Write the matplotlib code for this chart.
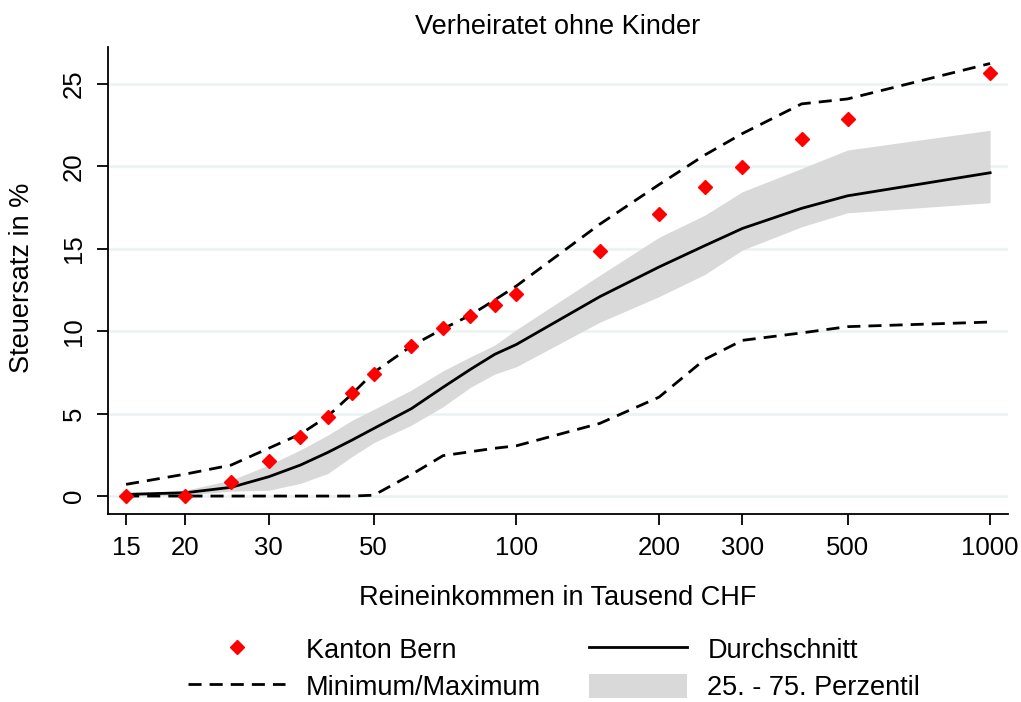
import matplotlib
matplotlib.use("Agg")
import matplotlib.pyplot as plt
from matplotlib.patches import Patch
from matplotlib.lines import Line2D

plt.rcParams["font.family"] = ["Liberation Sans", "DejaVu Sans"]

# -------------------------------
# data
# -------------------------------
income = [15, 20, 25, 30, 35, 40, 45, 50, 60, 70, 80, 90, 100,
          150, 200, 250, 300, 400, 500, 1000]
bern = [0, 0, 0.85, 2.12, 3.58, 4.79, 6.25, 7.4, 9.1, 10.19, 10.92, 11.59, 12.26,
        14.87, 17.1, 18.75, 19.96, 21.66, 22.88, 25.67]
maximum = [0.71, 1.33, 1.88, 2.9, 3.76, 4.85, 6.2, 7.5, 9.1, 10.15, 10.98, 11.9, 12.75,
           16.5, 18.9, 20.7, 22.0, 23.8, 24.1, 26.25]
minimum = [0, 0, 0, 0, 0, 0, 0, 0.05, 1.3, 2.45, 2.69, 2.9, 3.05,
           4.41, 6.0, 8.3, 9.45, 9.9, 10.28, 10.56]
mean = [0.1, 0.2, 0.53, 1.17, 1.88, 2.65, 3.4, 4.1, 5.3, 6.6, 7.69, 8.6, 9.2,
        12.1, 13.9, 15.2, 16.24, 17.46, 18.22, 19.62]
p75 = [0.15, 0.35, 0.97, 1.88, 2.8, 3.7, 4.6, 5.26, 6.43, 7.6, 8.45, 9.16, 10.1,
       13.4, 15.7, 17.05, 18.47, 19.88, 21.0, 22.2]
p25 = [0, 0.05, 0.3, 0.35, 0.77, 1.37, 2.4, 3.24, 4.3, 5.42, 6.6, 7.4, 7.85,
       10.55, 12.1, 13.45, 14.93, 16.34, 17.19, 17.8]

xticks = [15, 20, 30, 50, 100, 200, 300, 500, 1000]
yticks = [0, 5, 10, 15, 20, 25]

DASH = (4.7, 2.9)
LW = 2.0

# -------------------------------
# figure
# -------------------------------
fig = plt.figure(figsize=(10.21, 7.02), dpi=100)
ax = fig.add_axes([0.1058, 0.2678, 0.8815, 0.6652])

ax.set_xscale("log")
ax.set_xlim(13.74, 1091)
ax.set_ylim(-1.09, 27.25)

for y in yticks:
    ax.axhline(y, color="#eaf2f3", lw=1.8, zorder=0)

ax.fill_between(income, p25, p75, color="#d9d9d9", lw=0, zorder=1)
ax.plot(income, mean, color="black", lw=LW, zorder=2)
ax.plot(income, maximum, color="black", lw=LW, dashes=DASH, zorder=2)
ax.plot(income, minimum, color="black", lw=LW, dashes=DASH, zorder=2)
ax.plot(income, bern, ls="none", marker="D", ms=7, color="red", mec="red", zorder=3)

ax.set_xticks(xticks)
ax.set_xticklabels([str(t) for t in xticks])
ax.xaxis.set_minor_locator(matplotlib.ticker.NullLocator())
ax.set_yticks(yticks)
ax.set_yticklabels([str(t) for t in yticks], rotation=90, va="center")
ax.tick_params(axis="both", labelsize=18.5, length=8, width=1.3, direction="out")
ax.tick_params(axis="x", pad=8)
ax.tick_params(axis="y", pad=8)

for side in ["top", "right"]:
    ax.spines[side].set_visible(False)
for side in ["left", "bottom"]:
    ax.spines[side].set_linewidth(1.3)

fig.text(0.5465, 0.9615, "Verheiratet ohne Kinder", ha="center", va="center", fontsize=19.5)
fig.text(0.5465, 0.148, "Reineinkommen in Tausend CHF", ha="center", va="center", fontsize=19.5)
fig.text(0.0215, 0.604, "Steuersatz in %", ha="center", va="center", rotation=90, fontsize=19.5)

handles = [
    Line2D([], [], ls="none", marker="D", ms=7.5, color="red"),
    Line2D([], [], color="black", lw=LW, dashes=DASH),
    Line2D([], [], color="black", lw=LW),
    Patch(facecolor="#d9d9d9", edgecolor="none"),
]
labels = ["Kanton Bern", "Minimum/Maximum", "Durchschnitt", "25. - 75. Perzentil"]
fig.legend(handles, labels, loc="center", bbox_to_anchor=(0.5426, 0.0475), ncol=2,
           frameon=False, fontsize=19.5, handlelength=3.6, handleheight=1.0,
           handletextpad=0.75, columnspacing=1.8, labelspacing=0.38,
           borderpad=0.1)

fig.savefig("out.png", dpi=100)
